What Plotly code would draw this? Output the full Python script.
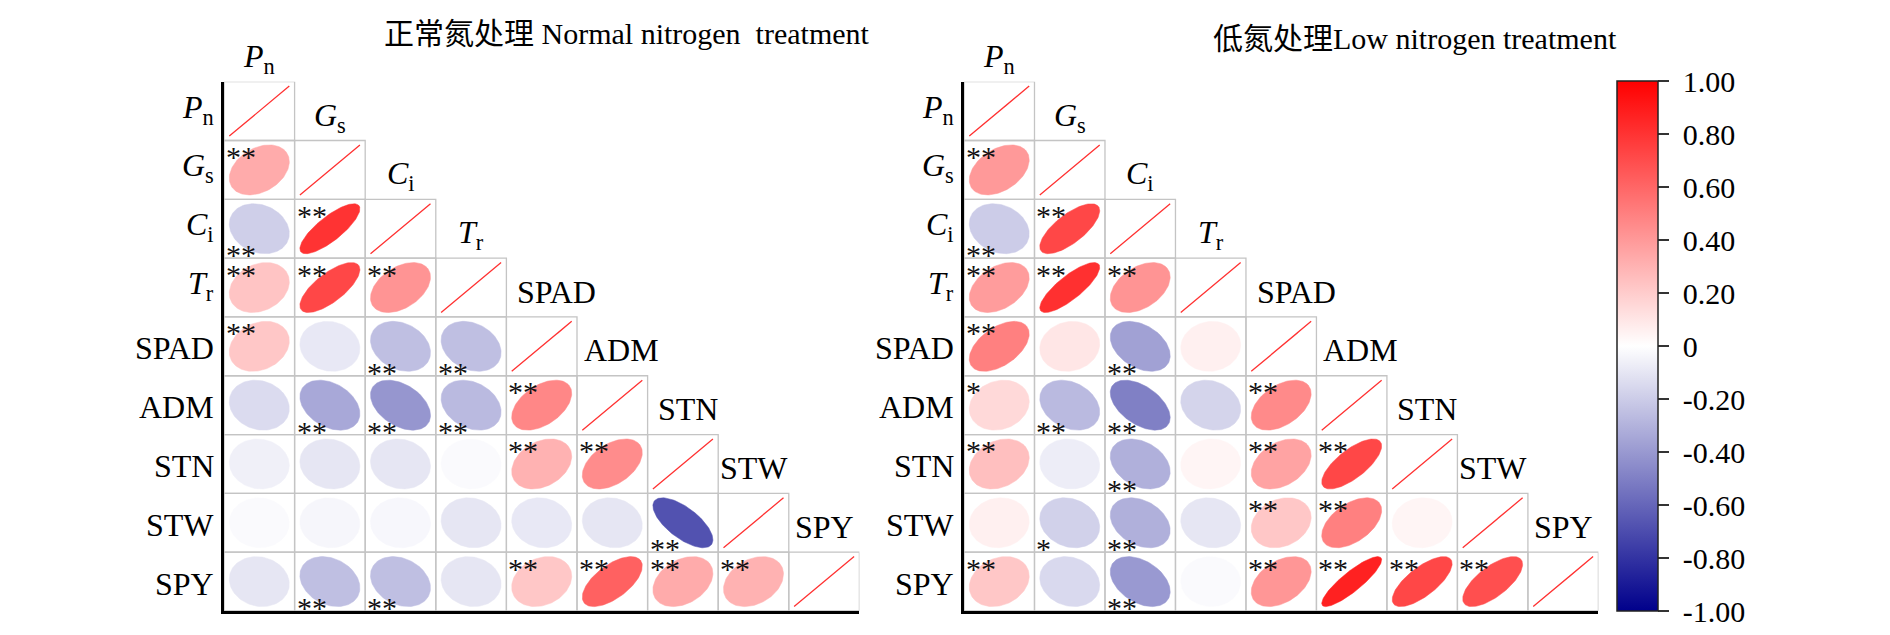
import numpy as np
import plotly.graph_objects as go

# ---------------- data ----------------
variables = ["Pn", "Gs", "Ci", "Tr", "SPAD", "ADM", "STN", "STW", "SPY"]
var_labels = ["<i>P</i><sub>n</sub>", "<i>G</i><sub>s</sub>", "<i>C</i><sub>i</sub>",
              "<i>T</i><sub>r</sub>", "SPAD", "ADM", "STN", "STW", "SPY"]

# lower triangle correlations (row i, columns 0..i-1)
normal_r = [
    [],
    [0.33],
    [-0.19, 0.80],
    [0.23, 0.72, 0.42],
    [0.22, -0.09, -0.25, -0.25],
    [-0.14, -0.34, -0.41, -0.27, 0.47],
    [-0.06, -0.10, -0.10, -0.02, 0.30, 0.45],
    [-0.02, -0.035, -0.03, -0.10, -0.09, -0.10, -0.68],
    [-0.10, -0.25, -0.25, -0.10, 0.22, 0.62, 0.33, 0.30],
]
normal_sig = [
    [],
    ["**"],
    ["**", "**"],
    ["**", "**", "**"],
    ["**", "", "**", "**"],
    ["", "**", "**", "**", "**"],
    ["", "", "", "", "**", "**"],
    ["", "", "", "", "", "", "**"],
    ["", "**", "**", "", "**", "**", "**", "**"],
]

low_r = [
    [],
    [0.40],
    [-0.20, 0.72],
    [0.39, 0.81, 0.42],
    [0.50, 0.10, -0.37, 0.06],
    [0.15, -0.27, -0.50, -0.17, 0.46],
    [0.25, -0.07, -0.31, 0.04, 0.36, 0.72],
    [0.06, -0.18, -0.31, -0.10, 0.22, 0.50, 0.04],
    [0.22, -0.15, -0.40, -0.02, 0.41, 0.87, 0.72, 0.69],
]
low_sig = [
    [],
    ["**"],
    ["**", "**"],
    ["**", "**", "**"],
    ["**", "", "**", ""],
    ["*", "**", "**", "", "**"],
    ["**", "", "**", "", "**", "**"],
    ["", "*", "**", "", "**", "**", ""],
    ["**", "", "**", "", "**", "**", "**", "**"],
]

titles = ["正常氮处理 Normal nitrogen  treatment", "低氮处理Low nitrogen treatment"]
cbar_vals = [1.0, 0.8, 0.6, 0.4, 0.2, 0.0, -0.2, -0.4, -0.6, -0.8, -1.0]
cbar_text = ["1.00", "0.80", "0.60", "0.40", "0.20", "0",
             "-0.20", "-0.40", "-0.60", "-0.80", "-1.00"]

# ---------------- styling / layout ----------------
OFF = 8  # page body margin of the html page
W, H = 1890 - OFF, 635 - OFF
GRID_TOP, GRID_BOT = 81.7 - OFF, 611.0 - OFF
PANEL_X = [(224.0 - OFF, 859.4 - OFF), (964.0 - OFF, 1598.4 - OFF)]
TITLE_POS = [(627 - OFF, 34 - OFF), (1415 - OFF, 39 - OFF)]
CBAR_X = 1617 - OFF
FONT = "Liberation Serif, 'Times New Roman', 'Noto Sans CJK SC', serif"
LOW_BLUE = (0, 0, 139)
HIGH_RED = (255, 0, 0)
colorscale = [[0.0, "rgb(0,0,139)"], [0.5, "rgb(255,255,255)"], [1.0, "rgb(255,0,0)"]]
ELL_SCALE = 0.85
LABEL_SIZE = 32
STAR_SIZE = 30
col_label_xshift = {"SPAD": 15, "ADM": 9, "STN": 5}


def r_color(r):
    if r >= 0:
        t = r
        c = [255 + (HIGH_RED[k] - 255) * t for k in range(3)]
    else:
        t = -r
        c = [255 + (LOW_BLUE[k] - 255) * t for k in range(3)]
    return "rgb(%d,%d,%d)" % tuple(round(v) for v in c)


def ellipse(r, cx, cy, n=120):
    k = np.linspace(0, 2 * np.pi, n)
    a = np.arccos(np.clip(r, -1, 1))
    ex = cx + ELL_SCALE / 2 * np.cos(k + a / 2)
    ey = cy - ELL_SCALE / 2 * np.cos(k - a / 2)
    return ex, ey


fig = go.Figure()
annotations = []
shapes = []
n = len(variables)

panels = [(normal_r, normal_sig), (low_r, low_sig)]
for p, (rr, ss) in enumerate(panels):
    xa = "x" if p == 0 else "x2"
    ya = "y" if p == 0 else "y2"
    for i in range(n):
        row_vals = list(rr[i]) + [1.0]
        for j, r in enumerate(row_vals):
            cx, cy = j + 0.5, i + 0.5
            shapes.append(dict(type="rect", xref=xa, yref=ya, x0=j, x1=j + 1, y0=i, y1=i + 1,
                               line=dict(color="#C4C4C4", width=1.3), layer="below"))
            ex, ey = ellipse(r, cx, cy)
            if j == i:
                fig.add_trace(go.Scatter(x=ex, y=ey, mode="lines", xaxis=xa, yaxis=ya,
                                         line=dict(color="rgb(255,50,50)", width=1.3),
                                         hoverinfo="skip", showlegend=False))
            else:
                col = r_color(r)
                fig.add_trace(go.Scatter(x=ex, y=ey, mode="lines", fill="toself", xaxis=xa, yaxis=ya,
                                         fillcolor=col, line=dict(color=col, width=0.5),
                                         hoverinfo="skip", showlegend=False))
                sig = ss[i][j]
                if sig:
                    if r >= 0:
                        annotations.append(dict(xref=xa, yref=ya, x=j, y=i, text=sig, showarrow=False,
                                                xanchor="left", yanchor="top", xshift=0, yshift=2.5,
                                                font=dict(family=FONT, size=STAR_SIZE, color="#111")))
                    else:
                        annotations.append(dict(xref=xa, yref=ya, x=j, y=i + 1, text=sig, showarrow=False,
                                                xanchor="left", yanchor="bottom", xshift=0, yshift=-15,
                                                font=dict(family=FONT, size=STAR_SIZE, color="#111")))
    # row labels
    for i in range(n):
        has_sub = "<sub>" in var_labels[i]
        annotations.append(dict(xref=xa, yref=ya, x=0, y=i + 0.5, text=var_labels[i], showarrow=False,
                                xanchor="right", yanchor="middle", xshift=-8, yshift=2 if has_sub else -2,
                                font=dict(family=FONT, size=LABEL_SIZE, color="black")))
    # column labels (staircase above the diagonal), in axis-domain coordinates
    for j in range(n):
        has_sub = "<sub>" in var_labels[j]
        annotations.append(dict(xref=xa + " domain", yref=ya + " domain",
                                x=(j + 0.5) / n, y=1 - (j - 0.5) / n, text=var_labels[j], showarrow=False,
                                xanchor="center", yanchor="middle",
                                xshift=col_label_xshift.get(variables[j], 0), yshift=-6 if has_sub else -4,
                                font=dict(family=FONT, size=LABEL_SIZE, color="black")))
    tx, ty = TITLE_POS[p]
    annotations.append(dict(xref="paper", yref="paper", x=tx / W, y=1 - ty / H, text=titles[p],
                            showarrow=False, xanchor="center", yanchor="middle",
                            font=dict(family=FONT, size=30, color="black")))

# colorbar carrier
fig.add_trace(go.Scatter(x=[0.5], y=[0.5], xaxis="x2", yaxis="y2", mode="markers",
                         marker=dict(size=1, opacity=0, color=[0], cmin=-1, cmax=1,
                                     colorscale=colorscale, showscale=True,
                                     colorbar=dict(thickness=41, len=GRID_BOT - GRID_TOP + 0.7, lenmode="pixels",
                                                   x=CBAR_X / W, xanchor="left", xpad=0,
                                                   y=1 - GRID_BOT / H, yanchor="bottom", ypad=0,
                                                   outlinewidth=1.5, outlinecolor="#222",
                                                   ticks="outside", ticklen=11, tickwidth=2, tickcolor="#333",
                                                   tickvals=cbar_vals, ticktext=[" " + t for t in cbar_text],
                                                   tickfont=dict(family=FONT, size=30, color="black"))),
                         hoverinfo="skip", showlegend=False))

ydom = [1 - GRID_BOT / H, 1 - GRID_TOP / H]
axis_common = dict(showgrid=False, zeroline=False, showticklabels=False, ticks="")
fig.update_layout(
    width=W, height=H, autosize=False,
    margin=dict(l=0, r=0, t=0, b=0),
    paper_bgcolor="white", plot_bgcolor="white",
    xaxis=dict(domain=[PANEL_X[0][0] / W, PANEL_X[0][1] / W], range=[0, n], showline=True,
               linecolor="black", linewidth=2.5, **axis_common),
    yaxis=dict(domain=ydom, range=[n, 0], showline=True, linecolor="black", linewidth=2.5, **axis_common),
    xaxis2=dict(domain=[PANEL_X[1][0] / W, PANEL_X[1][1] / W], range=[0, n], showline=True,
                linecolor="black", linewidth=2.5, anchor="y2", **axis_common),
    yaxis2=dict(domain=ydom, range=[n, 0], showline=True, linecolor="black", linewidth=2.5,
                anchor="x2", **axis_common),
    annotations=annotations,
    shapes=shapes,
    showlegend=False,
)

fig.write_html("out.html")
